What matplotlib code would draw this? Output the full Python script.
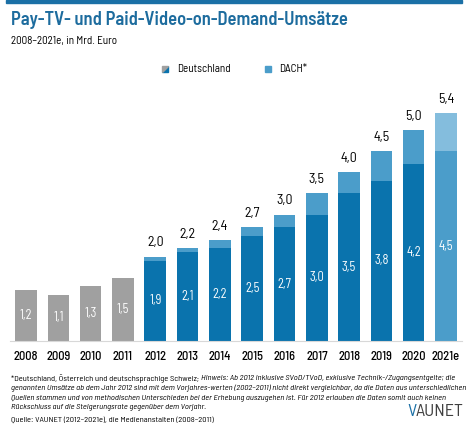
import matplotlib
matplotlib.use("Agg")
import matplotlib.pyplot as plt
from matplotlib.patches import Polygon, Rectangle

plt.rcParams["font.family"] = ["Barlow Semi Condensed", "DejaVu Sans"]

years = ["2008", "2009", "2010", "2011", "2012", "2013", "2014",
         "2015", "2016", "2017", "2018", "2019", "2020", "2021e"]
gray_vals = [1.2, 1.1, 1.3, 1.5]                    # 2008-2011, Deutschland (Medienanstalten)
de_vals = [1.9, 2.1, 2.2, 2.5, 2.7, 3.0, 3.5, 3.8, 4.2, 4.5]   # 2012-2021e
dach_vals = [2.0, 2.2, 2.4, 2.7, 3.0, 3.5, 4.0, 4.5, 5.0, 5.4]  # 2012-2021e

GRAY = "#a0a0a0"
DARK = "#0a73ad"
MID = "#4b9dca"
LIGHT = "#84bddd"
TITLE = "#1d6c9e"


def fmt(v):
    return f"{v:.1f}".replace(".", ",")


def fy(px):
    # pixel from top -> figure fraction
    return 1 - px / 432


fig = plt.figure(figsize=(4.68, 4.32), dpi=100)
ax = fig.add_axes([10 / 468, 91 / 432, 452 / 468, 253 / 432])
W = 0.665

x_gray = list(range(len(gray_vals)))
x_new = list(range(len(gray_vals), len(years)))

ax.bar(x_gray, gray_vals, W, color=GRAY)
for x, v in zip(x_gray, gray_vals):
    ax.text(x, v / 2, fmt(v), color="white", ha="center", va="center", fontsize=9)

for i, (x, de, da) in enumerate(zip(x_new, de_vals, dach_vals)):
    last = i == len(de_vals) - 1
    ax.bar(x, de, W, color=MID if last else DARK)
    ax.bar(x, da - de, W, bottom=de, color=LIGHT if last else MID)
    ax.text(x, de / 2, fmt(de), color="white", ha="center", va="center", fontsize=9)
    ax.text(x, da + 0.17, fmt(da), color="black", ha="center", va="bottom", fontsize=10)

ax.set_xlim(-0.495, len(years) - 0.505)
ax.set_ylim(0, 6)
ax.set_xticks(range(len(years)))
ax.set_xticklabels(years, fontsize=9, fontweight="medium")
ax.tick_params(axis="x", length=0, pad=7)
ax.set_yticks([])
for s in ["top", "right", "left"]:
    ax.spines[s].set_visible(False)
ax.spines["bottom"].set_color("#d8d8d8")
ax.spines["bottom"].set_linewidth(0.8)

# header
fig.patches.append(Rectangle((6 / 468, fy(3)), 456 / 468, 3 / 432,
                             transform=fig.transFigure, color="#1b70a6"))
fig.text(11 / 468, fy(20), "Pay-TV- und Paid-Video-on-Demand-Umsätze",
         fontsize=13.3, fontweight="semibold", color=TITLE, va="center")
fig.text(11 / 468, fy(41), "2008–2021e, in Mrd. Euro", fontsize=8, va="center")

# legend
s = 6
x0, y0 = 162, 69 + s / 2
fig.patches.append(Polygon([(x0 / 468, fy(y0)), ((x0 + s) / 468, fy(y0)),
                            ((x0 + s) / 468, fy(y0 - s))],
                           transform=fig.transFigure, color=DARK))
fig.patches.append(Polygon([(x0 / 468, fy(y0)), (x0 / 468, fy(y0 - s)),
                            ((x0 + s) / 468, fy(y0 - s))],
                           transform=fig.transFigure, color=GRAY))
fig.text(177 / 468, fy(69), "Deutschland", fontsize=8, va="center")
fig.patches.append(Rectangle((265 / 468, fy(y0)), s / 468, s / 432,
                             transform=fig.transFigure, color=MID))
fig.text(279 / 468, fy(69), "DACH*", fontsize=8, va="center")

# footnote
fs = 6.1
first = fig.text(11 / 468, fy(379), "*Deutschland, Österreich und deutschsprachige Schweiz; ",
                 fontsize=fs, va="center")
r = fig.canvas.get_renderer()
bb = first.get_window_extent(r)
fig.text(bb.x1 / fig.bbox.width, fy(379),
         "Hinweis: Ab 2012 inklusive SVoD/TVoD, exklusive Technik-/Zugangsentgelte; die",
         fontsize=fs, va="center", style="italic")
lines = [
    "genannten Umsätze ab dem Jahr 2012 sind mit dem Vorjahres-werten (2002–2011) nicht direkt vergleichbar, da die Daten aus unterschiedlichen",
    "Quellen stammen und von methodischen Unterschieden bei der Erhebung auszugehen ist. Für 2012 erlauben die Daten somit auch keinen",
    "Rückschluss auf die Steigerungsrate gegenüber dem Vorjahr.",
]
for ln, y in zip(lines, [388.5, 398, 407.5]):
    fig.text(11 / 468, fy(y), ln, fontsize=fs, va="center", style="italic")
fig.text(11 / 468, fy(420), "Quelle: VAUNET (2012–2021e), die Medienanstalten (2008–2011)",
         fontsize=fs, va="center")

# logo
fig.text(407 / 468, fy(412), "V", fontsize=13, color="#1b70a6", va="center")
fig.text(416 / 468, fy(412), "AUNET", fontsize=13, color="#404040", va="center")

fig.savefig("out.png", dpi=100)
